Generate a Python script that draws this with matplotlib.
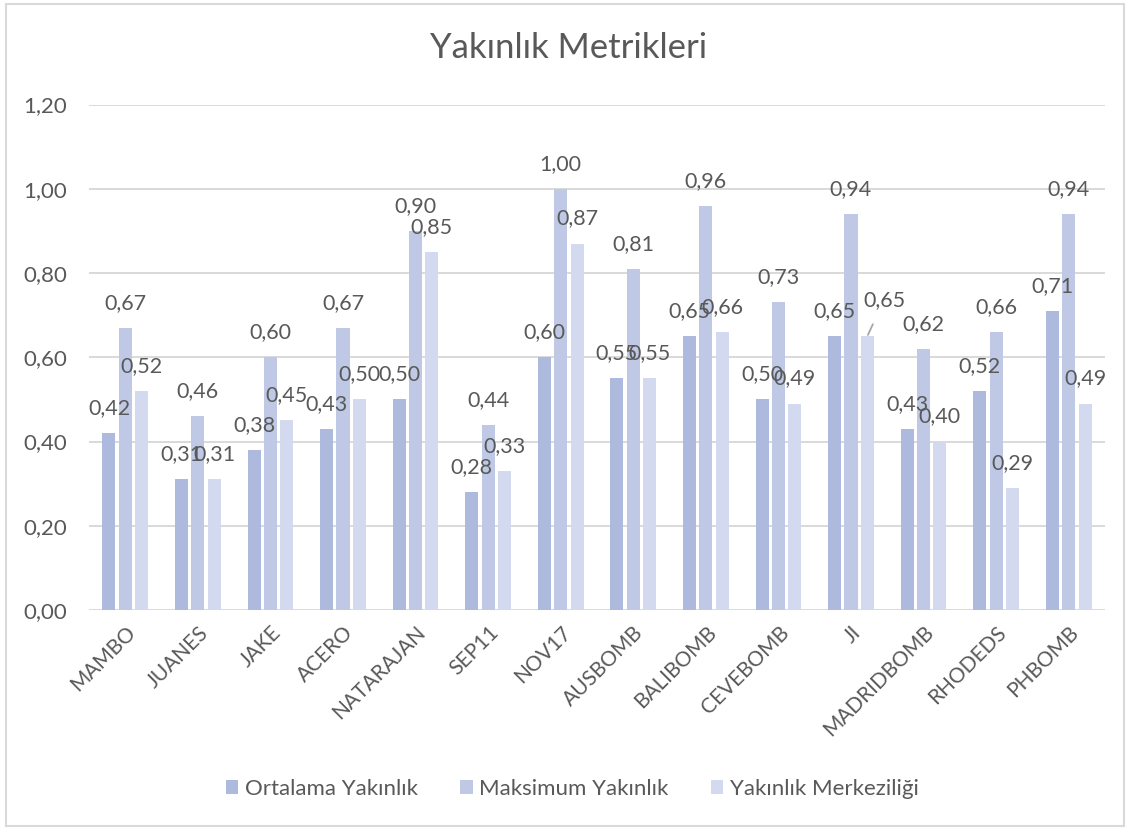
import matplotlib
matplotlib.use("Agg")
import matplotlib.pyplot as plt
import numpy as np
from matplotlib.patches import Rectangle

plt.rcParams['font.family'] = ['Lato', 'DejaVu Sans']

categories = ["MAMBO", "JUANES", "JAKE", "ACERO", "NATARAJAN", "SEP11", "NOV17",
              "AUSBOMB", "BALIBOMB", "CEVEBOMB", "JI", "MADRIDBOMB", "RHODEDS", "PHBOMB"]
ortalama = [0.42, 0.31, 0.38, 0.43, 0.50, 0.28, 0.60, 0.55, 0.65, 0.50, 0.65, 0.43, 0.52, 0.71]
maksimum = [0.67, 0.46, 0.60, 0.67, 0.90, 0.44, 1.00, 0.81, 0.96, 0.73, 0.94, 0.62, 0.66, 0.94]
merkezilik = [0.52, 0.31, 0.45, 0.50, 0.85, 0.33, 0.87, 0.55, 0.66, 0.49, 0.65, 0.40, 0.29, 0.49]
series_names = ["Ortalama Yakınlık", "Maksimum Yakınlık", "Yakınlık Merkeziliği"]
yticks = [0.0, 0.2, 0.4, 0.6, 0.8, 1.0, 1.2]

colors = ["#AEBADD", "#BFC9E5", "#D3D9EE"]
text_color = "#595959"
grid_color = "#D9D9D9"

W, H = 1129, 830
fig = plt.figure(figsize=(W / 100, H / 100), dpi=100)
fig.patch.set_facecolor("white")

# outer chart border
fig.add_artist(Rectangle((6 / W, 4 / H), (1124 - 6) / W, (826 - 4) / H,
                         transform=fig.transFigure, fill=False,
                         edgecolor=grid_color, linewidth=1.5))

left, right = 89 / W, 1105 / W
bottom, top = 1 - 610 / H, 1 - 104.5 / H
ax = fig.add_axes([left, bottom, right - left, top - bottom])

x = np.arange(len(categories))
bw = 0.18
step = 0.225
all_series = [ortalama, maksimum, merkezilik]

ax.set_axisbelow(True)
for yv in yticks:
    ax.axhline(yv, color=grid_color, linewidth=1.4, zorder=0)

label_size = 15.5
for i, (vals, name, col) in enumerate(zip(all_series, series_names, colors)):
    pos = x + (i - 1) * step
    ax.bar(pos, vals, width=bw, color=col, label=name, zorder=2)
    for j, (px, v) in enumerate(zip(pos, vals)):
        lbl = f"{v:.2f}".replace(".", ",")
        if i == 2 and categories[j] == "JI":
            # label pulled aside with a leader line
            ax.annotate(lbl, xy=(px, v), xytext=(12, 26), textcoords="offset points",
                        ha="center", va="center", fontsize=label_size, color=text_color,
                        arrowprops=dict(arrowstyle="-", color="#A6A6A6", lw=1.3,
                                        shrinkA=9, shrinkB=1), zorder=4)
        else:
            ax.annotate(lbl, xy=(px, v), xytext=(0, 18), textcoords="offset points",
                        ha="center", va="center", fontsize=label_size, color=text_color,
                        zorder=4)

ax.set_xlim(-0.5, len(categories) - 0.5)
ax.set_ylim(0, 1.2)
ax.set_yticks(yticks)
ax.set_yticklabels([f"{v:.2f}".replace(".", ",") for v in yticks])
ax.set_xticks(x)
ax.set_xticklabels(categories, rotation=45, ha="right", rotation_mode="anchor")
ax.tick_params(axis="y", length=0, pad=16, labelsize=16, labelcolor=text_color)
ax.tick_params(axis="x", length=0, pad=9, labelsize=15, labelcolor=text_color)
for s in ax.spines.values():
    s.set_visible(False)

fig.text(0.504, 1 - 48 / H, "Yakınlık Metrikleri", ha="center", va="center",
         fontsize=25, color=text_color)

handles, labels = ax.get_legend_handles_labels()
fig.legend(handles, labels, loc="center", bbox_to_anchor=(0.507, 1 - 789 / H),
           ncol=3, frameon=False, fontsize=16, labelcolor=text_color,
           handlelength=0.55, handleheight=0.55, handletextpad=0.3, columnspacing=1.9)

fig.savefig("out.png", dpi=100, facecolor="white")
